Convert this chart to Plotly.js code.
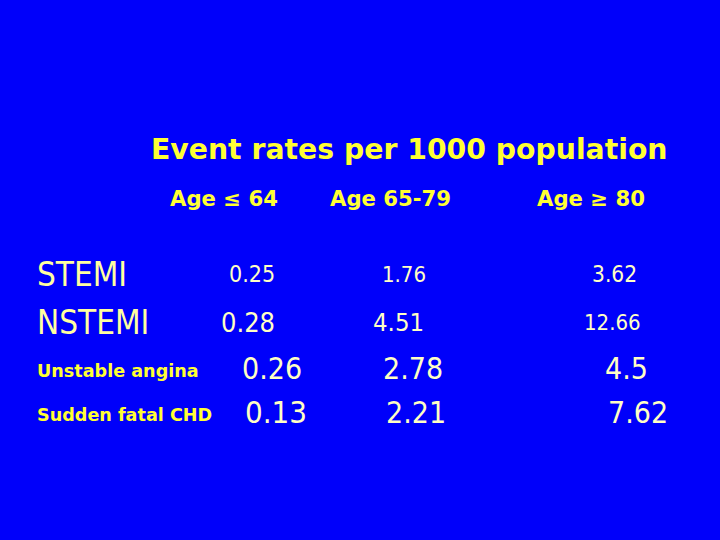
<!DOCTYPE html>
<html><head><meta charset="utf-8">
<script src="https://cdn.plot.ly/plotly-3.0.1.min.js"></script>
<style>html,body{margin:0;padding:0;background:#0000fa;}</style>
</head><body><div id="chart" style="width:720px;height:540px;"></div>
<script>
// ---- data ----
const titleText = "Event rates per 1000 population";
const ageGroups = ["Age \u2264 64", "Age 65-79", "Age \u2265 80"];
const eventTypes = ["STEMI", "NSTEMI", "Unstable angina", "Sudden fatal CHD"];
const ratesAge64 = ["0.25", "0.28", "0.26", "0.13"];
const ratesAge65to79 = ["1.76", "4.51", "2.78", "2.21"];
const ratesAge80 = ["3.62", "12.66", "4.5", "7.62"];

// ---- layout / style config ----
const bg = "#0000fa";
const yellow = "#ffff33";
const paleYellow = "#ffffa0";
const numColor = "#ffffc4";
const numFont = "DejaVu Sans Condensed, DejaVu Sans";
const rowY = [274, 322, 368, 412];
const labelY = [274, 322, 371, 415];
const colX = [[252, 404, 614], [248, 398, 612], [272, 413, 626], [276, 416, 638]];
const numSizes = [[23, 22, 22.5], [27, 25.5, 22], [30, 30, 30], [31, 30, 30]];
const labelStyle = [
  {size: 33, family: numFont, bold: false, color: paleYellow},
  {size: 33, family: numFont, bold: false, color: paleYellow},
  {size: 17.6, family: "DejaVu Sans", bold: true, color: yellow},
  {size: 17.6, family: "DejaVu Sans", bold: true, color: yellow}
];
const headerX = [224, 390, 591];

const columns = [ratesAge64, ratesAge65to79, ratesAge80];
const annotations = [];
annotations.push({x: 409, y: 149, text: "<b>" + titleText + "</b>", showarrow: false,
  xanchor: "center", yanchor: "middle", font: {family: "DejaVu Sans", size: 28.3, color: yellow}});
ageGroups.forEach((g, i) => annotations.push({x: headerX[i], y: 198, text: "<b>" + g + "</b>",
  showarrow: false, xanchor: "center", yanchor: "middle",
  font: {family: "DejaVu Sans", size: 21.2, color: yellow}}));
eventTypes.forEach((e, r) => {
  const s = labelStyle[r];
  annotations.push({x: 35, y: labelY[r], text: s.bold ? "<b>" + e + "</b>" : e, showarrow: false,
    xanchor: "left", yanchor: "middle", font: {family: s.family, size: s.size, color: s.color}});
  columns.forEach((col, c) => annotations.push({x: colX[r][c], y: rowY[r], text: col[r],
    showarrow: false, xanchor: "center", yanchor: "middle",
    font: {family: numFont, size: numSizes[r][c], color: numColor}}));
});

const layout = {
  width: 720, height: 540, margin: {l: 0, r: 0, t: 0, b: 0},
  paper_bgcolor: bg, plot_bgcolor: bg, showlegend: false,
  xaxis: {range: [0, 720], visible: false, fixedrange: true},
  yaxis: {range: [540, 0], visible: false, fixedrange: true},
  annotations: annotations
};
Plotly.newPlot("chart", [{x: [], y: [], type: "scatter", mode: "markers"}], layout, {staticPlot: true});
</script></body></html>
